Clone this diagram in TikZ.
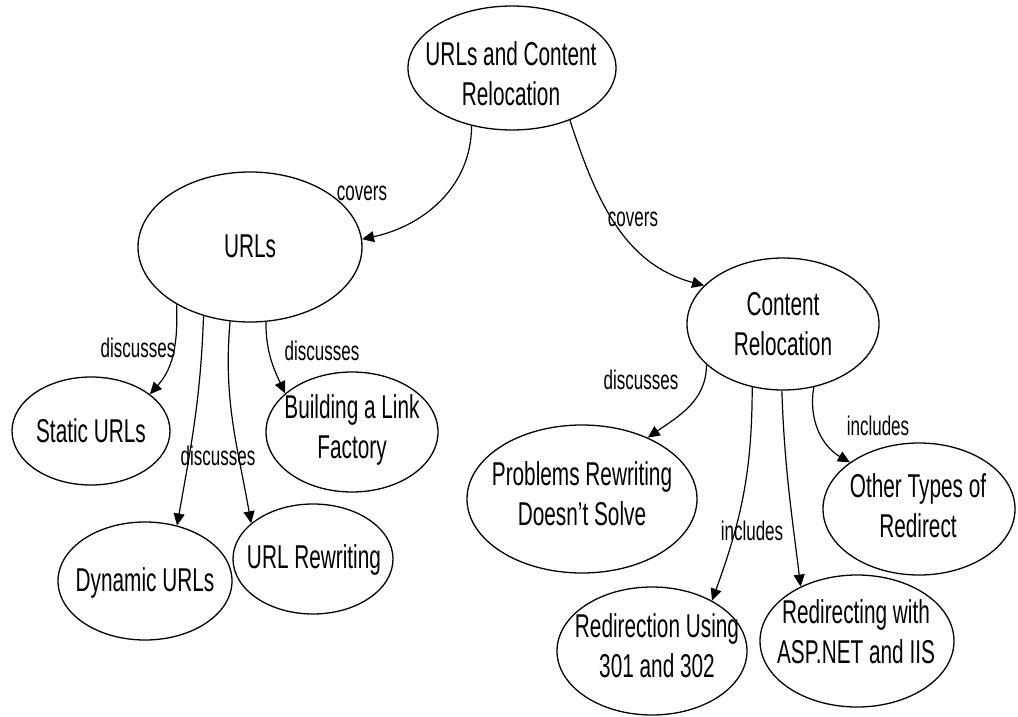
\documentclass[tikz,border=0pt]{standalone}
\usepackage{fontspec}
\setmainfont{Liberation Sans}[FakeStretch=0.63]
\usetikzlibrary{arrows.meta,shapes.geometric}

\begin{document}
\begin{tikzpicture}[x=1pt,y=1pt,
  concept/.style={ellipse, draw, line width=1.3pt, inner sep=0pt},
  ctext/.style={align=center, inner sep=0pt, font=\fontsize{33}{40}\selectfont},
  rel/.style={inner sep=0pt, font=\fontsize{27}{30}\selectfont},
  link/.style={line width=1.2pt, -{Triangle[length=12pt,width=11pt]}},
]
\useasboundingbox (0,0) rectangle (1018,-717);

% concept ellipses
\node[concept, minimum width=208, minimum height=124] (top)   at (512,-68)  {};
\node[concept, minimum width=224, minimum height=150] (urls)  at (250,-247) {};
\node[concept, minimum width=158, minimum height=108] (stat)  at (91,-431)  {};
\node[concept, minimum width=172, minimum height=120] (build) at (352,-432) {};
\node[concept, minimum width=174, minimum height=118] (dyn)   at (145,-581) {};
\node[concept, minimum width=160, minimum height=110] (rew)   at (313,-559) {};
\node[concept, minimum width=192, minimum height=132] (cont)  at (783,-324) {};
\node[concept, minimum width=230, minimum height=148] (prob)  at (582,-499) {};
\node[concept, minimum width=192, minimum height=132] (other) at (919,-509) {};
\node[concept, minimum width=190, minimum height=128] (redir) at (652,-651) {};
\node[concept, minimum width=194, minimum height=132] (asp)   at (857,-641) {};

% concept titles
\node[ctext] (top-t)   at (511,-74)  {URLs and Content\\Relocation};
\node[ctext] (urls-t)  at (250,-246) {URLs};
\node[ctext] (stat-t)  at (91,-431)  {Static URLs};
\node[ctext] (build-t) at (352,-430) {Building a Link\\Factory};
\node[ctext] (dyn-t)   at (145,-583) {Dynamic URLs};
\node[ctext] (rew-t)   at (314,-560) {URL Rewriting};
\node[ctext] (cont-t)  at (783,-324) {Content\\Relocation};
\node[ctext] (prob-t)  at (582,-494) {Problems Rewriting\\Doesn’t Solve};
\node[ctext] (other-t) at (918,-506) {Other Types of\\Redirect};
\node[ctext] (redir-t) at (657,-646) {Redirection Using\\301 and 302};
\node[ctext] (asp-t)   at (856,-632) {Redirecting with\\ASP.NET and IIS};

% relations
\draw[link] (top.-125)  to[out=-90, in=12]  (urls.4);
\draw[link] (top.-42)   to[out=-72, in=165] (cont.154);
\draw[link] (urls.-142) to[out=-88, in=48]  (stat.32);
\draw[link] (urls.-124) to[out=-92, in=80]  (dyn.60);
\draw[link] (urls.-105) to[out=-95, in=100] (rew.150);
\draw[link] (urls.-78)  to[out=-90, in=115] (build.150);
\draw[link] (cont.-152) to[out=-90, in=35]  (prob.43);
\draw[link] (cont.-116) to[out=-90, in=70]  (redir.40);
\draw[link] (cont.-91)  to[out=-88, in=97]  (asp.136);
\draw[link] (cont.-64)  to[out=-100, in=150] (other.146);

% relation labels
\node[rel] (l1)  at (362,-193) {covers};
\node[rel] (l2)  at (633,-219) {covers};
\node[rel] (l3)  at (138,-348) {discusses};
\node[rel] (l4)  at (322,-351) {discusses};
\node[rel] (l5)  at (218,-456) {discusses};
\node[rel] (l6)  at (641,-380) {discusses};
\node[rel] (l7)  at (878,-426) {includes};
\node[rel] (l8)  at (752,-531) {includes};
\end{tikzpicture}
\end{document}
